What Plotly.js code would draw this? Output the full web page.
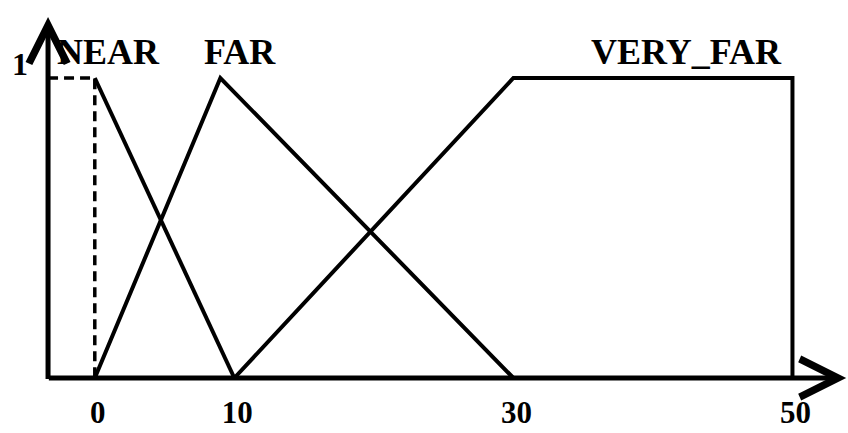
<!DOCTYPE html>
<html>
<head>
<meta charset="utf-8">
<script src="https://cdn.plot.ly/plotly-3.0.1.min.js"></script>
<style>html,body{margin:0;padding:0;background:#fff}#chart{width:848px;height:433px}</style>
</head>
<body>
<div id="chart"></div>
<script>
// ---- data ----
const axisX = -3.35;            // x value where the vertical axis sits
const nearX = [0, 10];
const nearY = [1, 0];
const nearDashX = [axisX, 0, 0];
const nearDashY = [1, 1, 0];
const farX = [0, 9, 30];
const farY = [0, 1, 0];
const veryFarX = [10, 30, 50, 50];
const veryFarY = [0, 1, 1, 0];
const tickVals = [0, 10, 30, 50];
const tickText = ['0', '10', '30', '50'];
const setNames = ['NEAR', 'FAR', 'VERY_FAR'];
const setLabelX = [0.95, 10.4, 42.4];
const setLabelY = 1.087;

const serif = 'Liberation Serif, Times New Roman, serif';
const lineStyle = {color: '#000', width: 4};

const traces = [
  {x: nearDashX, y: nearDashY, mode: 'lines', line: {color: '#000', width: 3.5, dash: '10px,6px'}, hoverinfo: 'skip'},
  {x: nearX, y: nearY, mode: 'lines', line: lineStyle, name: 'NEAR'},
  {x: farX, y: farY, mode: 'lines', line: lineStyle, name: 'FAR'},
  {x: veryFarX, y: veryFarY, mode: 'lines', line: lineStyle, name: 'VERY_FAR'}
];

const annotations = setNames.map((t, i) => ({
  x: setLabelX[i], y: setLabelY, xref: 'x', yref: 'y', text: t, showarrow: false,
  font: {family: serif, size: 36, color: '#000', weight: 'bold'}, xanchor: 'center', yanchor: 'middle'
}));
// axis arrows
annotations.push({x: 53.85, y: 0, ax: axisX - 0.05, ay: 0, xref: 'x', yref: 'y', axref: 'x', ayref: 'y',
  showarrow: true, arrowhead: 5, arrowwidth: 5, arrowsize: 1.5, arrowcolor: '#000', text: ''});
annotations.push({x: axisX, y: 1.203, ax: axisX, ay: -0.008, xref: 'x', yref: 'y', axref: 'x', ayref: 'y',
  showarrow: true, arrowhead: 5, arrowwidth: 5, arrowsize: 1.5, arrowcolor: '#000', text: ''});

const layout = {
  width: 848, height: 433,
  margin: {l: 42, r: 0, t: 10, b: 49},
  paper_bgcolor: '#fff', plot_bgcolor: '#fff',
  showlegend: false,
  xaxis: {range: [-3.783, 53.98], showgrid: false, zeroline: false, showline: false,
    tickvals: tickVals, ticktext: tickText, ticks: '', ticklabelstandoff: 7, ticklabelshift: 3,
    tickfont: {family: serif, size: 31, color: '#000', weight: 'bold'}},
  yaxis: {range: [-0.02, 1.2267], showgrid: false, zeroline: false, showline: false,
    tickvals: [1], ticktext: ['1'], ticks: '', ticklabelstandoff: 13, ticklabelshift: -14,
    tickfont: {family: serif, size: 32, color: '#000', weight: 'bold'}},
  annotations: annotations
};

Plotly.newPlot('chart', traces, layout, {staticPlot: true});
</script>
</body>
</html>
